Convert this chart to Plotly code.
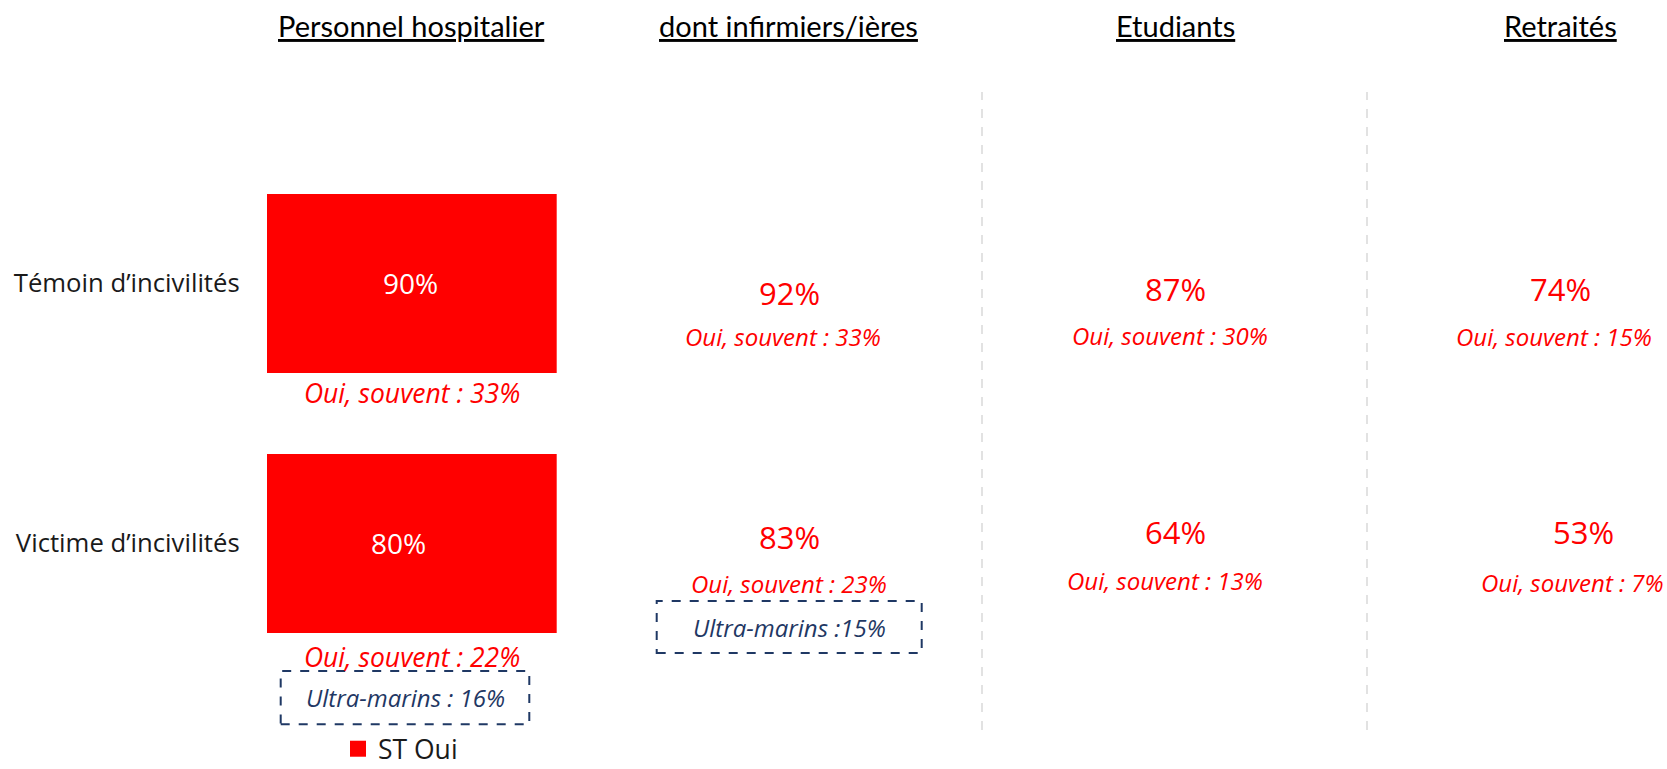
import plotly.graph_objects as go

# ---------------- data ----------------
groups = ["Personnel hospitalier", "dont infirmiers/ières", "Etudiants", "Retraités"]
rows = ["Témoin d’incivilités", "Victime d’incivilités"]

st_oui_personnel = [90, 80]
st_oui_infirmiers = [92, 83]
st_oui_etudiants = [87, 64]
st_oui_retraites = [74, 53]

souvent_personnel = [33, 22]
souvent_infirmiers = [33, 23]
souvent_etudiants = [30, 13]
souvent_retraites = [15, 7]

ultramarins_labels = ["Ultra-marins : 16%", "Ultra-marins :15%"]  # victim row, personnel / infirmiers

legend_name = "ST Oui"

# ---------------- style / layout helpers ----------------
W, H = 1667, 769
RED = "#FF0000"
NAVY = "#1F3864"
GREY = "#D9D9D9"
FONT = "Open Sans"
TITLE_FONT = "Lato"


def px(x):
    return x / W


def py(y):
    return 1 - y / H


fig = go.Figure()

fig.add_trace(go.Bar(
    orientation="h",
    y=rows,
    x=st_oui_personnel,
    name=legend_name,
    legendgroup="st",
    marker=dict(color=RED, line=dict(width=0)),
    width=0.689,
    textposition="none",
    hoverinfo="x+y",
    showlegend=False,
))
# legend entry (square swatch) for the bar series
fig.add_trace(go.Scatter(
    x=[None], y=[None], mode="markers", name=legend_name, legendgroup="st",
    marker=dict(symbol="square", size=17, color=RED), showlegend=True, hoverinfo="skip",
))

annotations = []

# column titles
title_x = [411, 788, 1175, 1560]
for g, x in zip(groups, title_x):
    annotations.append(dict(
        text=f"<u>{g}</u>", x=px(x), y=py(26), xref="paper", yref="paper",
        showarrow=False, xanchor="center", yanchor="middle",
        font=dict(family=TITLE_FONT, size=29, color="#000000"),
    ))

# values inside the bars (personnel hospitalier)
bar_label_xdomain = [0.497, 0.456]
for v, xd, yc in zip(st_oui_personnel, bar_label_xdomain, rows):
    annotations.append(dict(
        text=f"{v}%", x=xd, y=yc, xref="x domain", yref="y",
        showarrow=False, xanchor="center", yanchor="middle",
        font=dict(family=FONT, size=28, color="#FFFFFF"),
    ))

# "Oui, souvent" under the bars
souvent_pers_pos = [(412, 393), (412, 657)]
for v, (x, y) in zip(souvent_personnel, souvent_pers_pos):
    annotations.append(dict(
        text=f"<i>Oui, souvent : {v}%</i>", x=px(x), y=py(y), xref="paper", yref="paper",
        showarrow=False, xanchor="center", yanchor="middle",
        font=dict(family=FONT, size=26.5, color=RED),
    ))

# other columns: big numbers + "Oui, souvent"
cols = [
    (st_oui_infirmiers, souvent_infirmiers, [(789, 293), (789, 537)], [(783, 336), (789, 583)]),
    (st_oui_etudiants, souvent_etudiants, [(1175, 289), (1175, 532)], [(1170, 335), (1165, 580)]),
    (st_oui_retraites, souvent_retraites, [(1560, 289), (1583, 532)], [(1554, 336), (1572, 582)]),
]
for vals, souv, pos_big, pos_small in cols:
    for v, s, (bx, by), (sx, sy) in zip(vals, souv, pos_big, pos_small):
        annotations.append(dict(
            text=f"{v}%", x=px(bx), y=py(by), xref="paper", yref="paper",
            showarrow=False, xanchor="center", yanchor="middle",
            font=dict(family=FONT, size=31, color=RED),
        ))
        annotations.append(dict(
            text=f"<i>Oui, souvent : {s}%</i>", x=px(sx), y=py(sy), xref="paper", yref="paper",
            showarrow=False, xanchor="center", yanchor="middle",
            font=dict(family=FONT, size=24, color=RED),
        ))

# Ultra-marins boxes
boxes = [(280.7, 671, 529.3, 724.3), (656.7, 601, 921.7, 653)]
for lab, (x0, y0, x1, y1) in zip(ultramarins_labels, boxes):
    annotations.append(dict(
        text=f"<i>{lab}</i>", x=px((x0 + x1) / 2), y=py((y0 + y1) / 2), xref="paper", yref="paper",
        showarrow=False, xanchor="center", yanchor="middle",
        font=dict(family=FONT, size=24, color=NAVY),
    ))

shapes = []
for (x0, y0, x1, y1) in boxes:
    shapes.append(dict(type="rect", xref="paper", yref="paper",
                       x0=px(x0), x1=px(x1), y0=py(y1), y1=py(y0),
                       line=dict(color=NAVY, width=2, dash="dash"), fillcolor="rgba(0,0,0,0)"))
for xl in [982, 1367]:
    shapes.append(dict(type="line", xref="paper", yref="paper",
                       x0=px(xl), x1=px(xl), y0=py(730), y1=py(92),
                       line=dict(color=GREY, width=1.5, dash="dash")))

fig.update_layout(
    width=W, height=H,
    margin=dict(l=0, r=0, t=0, b=0, pad=0, autoexpand=False),
    paper_bgcolor="white", plot_bgcolor="white",
    font=dict(family=FONT, color="#1a1a1a"),
    xaxis=dict(domain=[px(266.7), px(556.7)], range=[0, 80], visible=False, fixedrange=True),
    yaxis=dict(domain=[py(672.5), py(153.5)], range=[1.5, -0.5], type="category",
               categoryorder="array", categoryarray=rows,
               showgrid=False, zeroline=False, showline=False, ticks="",
               ticklabelstandoff=26, tickfont=dict(family=FONT, size=25.7, color="#1a1a1a"),
               fixedrange=True),
    showlegend=True,
    legend=dict(x=px(338), y=py(749), xanchor="left", yanchor="middle",
                itemsizing="trace",
                font=dict(family=FONT, size=26.5, color="#1a1a1a"),
                bgcolor="rgba(0,0,0,0)", borderwidth=0),
    annotations=annotations,
    shapes=shapes,
    bargap=0,
)

fig.write_html("out.html", config={"displayModeBar": False},
               post_script="document.body.style.margin='0';document.body.style.overflow='hidden';")
